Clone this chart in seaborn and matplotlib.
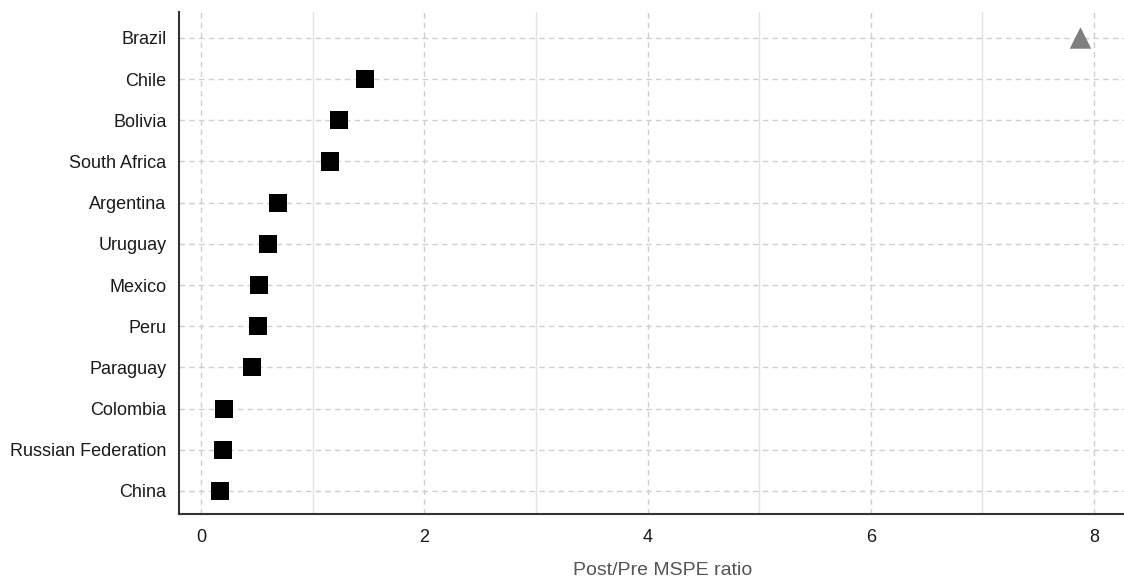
import matplotlib.pyplot as plt
import pandas as pd
import seaborn as sns

paises = ['Brazil', 'Chile', 'Bolivia', 'South Africa', 'Argentina', 'Uruguay',
          'Mexico', 'Peru', 'Paraguay', 'Colombia', 'Russian Federation', 'China']
ratio = [7.88, 1.47, 1.23, 1.15, 0.69, 0.60, 0.52, 0.51, 0.45, 0.20, 0.19, 0.17]
tratado = ['Brazil']

df = pd.DataFrame({'pais': paises, 'ratio': ratio})
df['grupo'] = ['tratado' if p in tratado else 'control' for p in df['pais']]

sns.set_style('white')
plt.rcParams['font.family'] = ['Liberation Sans', 'DejaVu Sans']

fig = plt.figure(figsize=(11.24, 5.83), dpi=100)
ax = fig.add_axes([0.1593, 0.1184, 0.8407, 0.861])

# grilla primero
ax.set_axisbelow(True)
ax.set_xticks([0, 2, 4, 6, 8])
ax.set_xticks([1, 3, 5, 7], minor=True)
ax.grid(which='major', axis='both', color='#cfcfcf', linestyle=(0, (4, 3)), linewidth=1)
ax.grid(which='minor', axis='x', color='#e3e3e3', linestyle='-', linewidth=1)

sns.scatterplot(data=df, x='ratio', y='pais', hue='grupo', style='grupo', size='grupo',
                markers={'tratado': '^', 'control': 's'},
                palette={'tratado': '#7f7f7f', 'control': 'black'},
                sizes={'tratado': 240, 'control': 170},
                linewidth=0, legend=False, ax=ax, zorder=3)

ax.set_xlim(-0.2, 8.27)
ax.set_ylim(11.56, -0.63)
ax.set_ylabel('')
ax.set_xlabel('Post/Pre MSPE ratio', fontsize=14, color='#555555')
ax.xaxis.set_label_coords(0.512, -0.095)

ax.tick_params(axis='both', which='major', length=4, width=1, color='#888888',
               labelsize=13, labelcolor='#1a1a1a', direction='out')
ax.tick_params(axis='x', which='minor', length=0)
ax.tick_params(axis='x', pad=7)
ax.tick_params(axis='y', pad=5)

for lado in ['top', 'right']:
    ax.spines[lado].set_visible(False)
for lado in ['left', 'bottom']:
    ax.spines[lado].set_color('#333333')
    ax.spines[lado].set_linewidth(1.5)

fig.savefig('out.png', dpi=100)
